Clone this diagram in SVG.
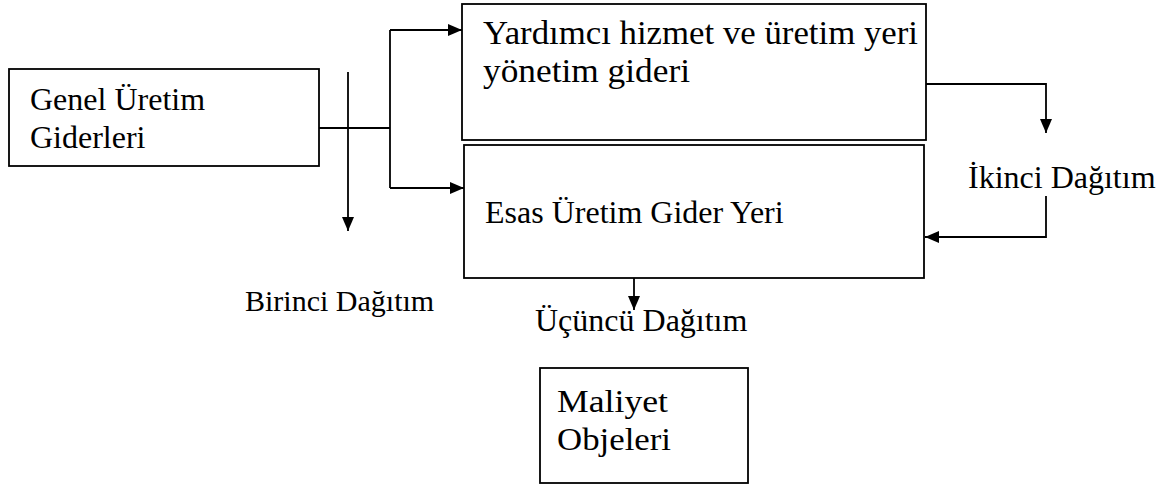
<svg xmlns="http://www.w3.org/2000/svg" width="1170" height="485" viewBox="0 0 1170 485">
  <style>
    .box { fill: #ffffff; stroke: #000000; stroke-width: 1.8; }
    .wire { fill: none; stroke: #000000; stroke-width: 1.8; }
    .lbl { font-family: "Liberation Serif", "Times New Roman", serif; font-size: 32px; fill: #000000; }
  </style>
  <defs>
    <marker id="head" viewBox="0 0 14 12" refX="14" refY="6" markerWidth="14" markerHeight="12" markerUnits="userSpaceOnUse" orient="auto">
      <path d="M0,0 L14,6 L0,12 Z" fill="#000000"/>
    </marker>
  </defs>
  <rect width="1170" height="485" fill="#ffffff"/>

  <g id="connectors">
    <!-- first distribution: overhead split to both cost centres -->
    <path class="wire" d="M319,128 H390"/>
    <path class="wire" d="M390,30 V188"/>
    <path class="wire" d="M390,30 H462" marker-end="url(#head)"/>
    <path class="wire" d="M390,188 H464" marker-end="url(#head)"/>
    <path class="wire" d="M348,72 V231" marker-end="url(#head)"/>
    <!-- second distribution: service centre back to main centre -->
    <path class="wire" d="M926,84 H1046 V133" marker-end="url(#head)"/>
    <path class="wire" d="M1046,196 V237 H925" marker-end="url(#head)"/>
    <!-- third distribution -->
    <path class="wire" d="M634,278 V310" marker-end="url(#head)"/>
  </g>

  <g id="genel">
    <rect class="box" x="9" y="69" width="310" height="97"/>
    <text class="lbl" x="30" y="110">Genel Üretim</text>
    <text class="lbl" x="30" y="148">Giderleri</text>
  </g>

  <g id="yardimci">
    <rect class="box" x="462" y="4" width="464" height="136"/>
    <text class="lbl" x="483" y="44" style="font-size:33px" textLength="435" lengthAdjust="spacingAndGlyphs">Yardımcı hizmet ve üretim yeri</text>
    <text class="lbl" x="483" y="82" style="font-size:33px" textLength="207" lengthAdjust="spacingAndGlyphs">yönetim gideri</text>
  </g>

  <g id="esas">
    <rect class="box" x="464" y="145" width="460" height="133"/>
    <text class="lbl" x="485" y="223">Esas Üretim Gider Yeri</text>
  </g>

  <g id="maliyet">
    <rect class="box" x="540" y="368" width="208" height="115"/>
    <text class="lbl" x="557" y="412" textLength="111" lengthAdjust="spacingAndGlyphs">Maliyet</text>
    <text class="lbl" x="557" y="450" textLength="114" lengthAdjust="spacingAndGlyphs">Objeleri</text>
  </g>

  <g id="labels">
    <text class="lbl" x="245" y="311" style="font-size:30px">Birinci Dağıtım</text>
    <text class="lbl" x="535" y="331">Üçüncü Dağıtım</text>
    <text class="lbl" x="968" y="188">İkinci Dağıtım</text>
  </g>
</svg>
